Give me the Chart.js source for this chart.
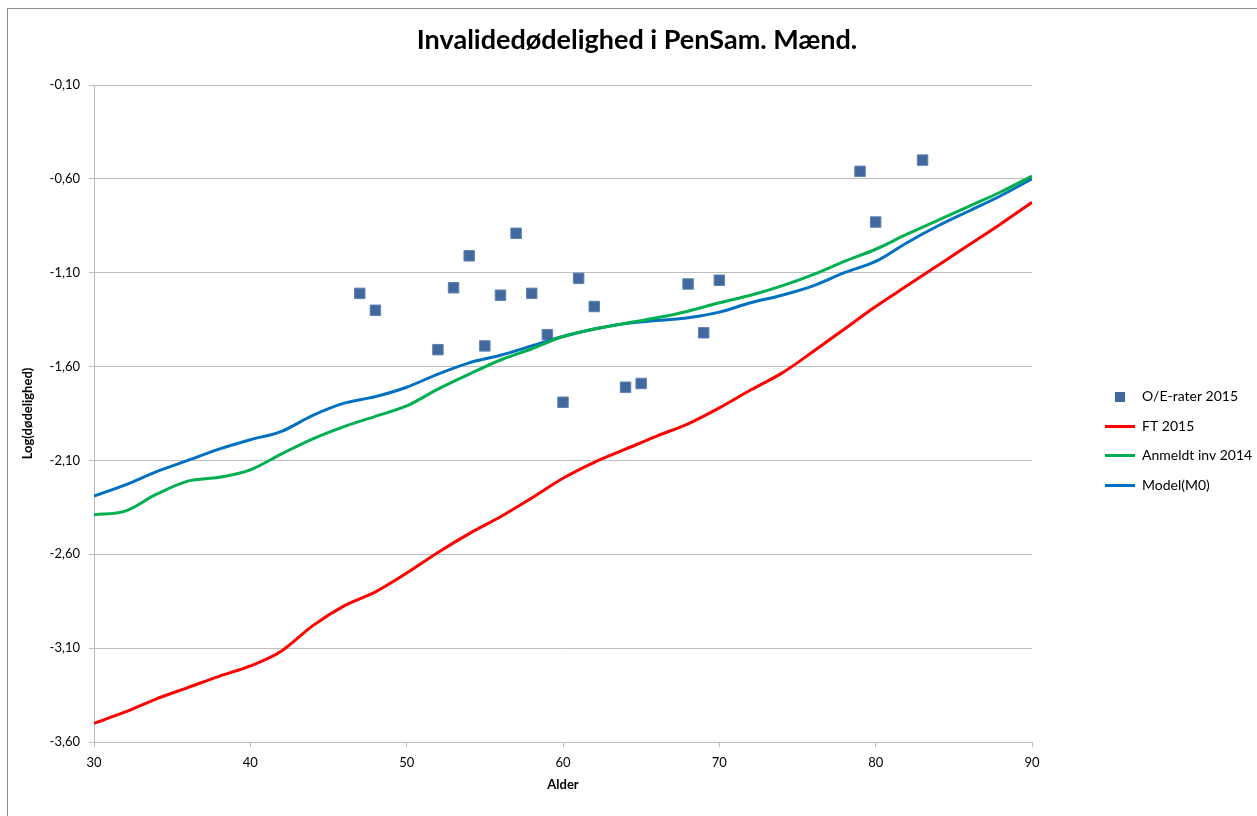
<!DOCTYPE html>
<html>
<head>
<meta charset="utf-8">
<script src="https://cdn.jsdelivr.net/npm/chart.js@4.4.1/dist/chart.umd.min.js"></script>
<style>
  html, body { margin: 0; padding: 0; background: #fff; overflow: hidden; }
  #graf { position: absolute; left: 0; top: 0; }
  #ramme { position: absolute; left: 7px; top: 8px; width: 1400px; height: 1000px; border: 1px solid #8c8c8c; pointer-events: none; }
</style>
</head>
<body>
<canvas id="graf" width="1274" height="816"></canvas>
<div id="ramme"></div>
<script>
// Data

const alder = [30, 32, 34, 36, 38, 40, 42, 44, 46, 48, 50, 52, 54, 56, 58, 60,
  62, 64, 66, 68, 70, 72, 74, 76, 78, 80, 82, 84, 86, 88, 90];

const ft2015 = [-3.50, -3.44, -3.37, -3.31, -3.25, -3.195, -3.115, -2.98, -2.875, -2.80, -2.70,
  -2.59, -2.49, -2.40, -2.30, -2.195, -2.11, -2.04, -1.97, -1.905, -1.82, -1.725,
  -1.635, -1.52, -1.40, -1.28, -1.17, -1.06, -0.95, -0.84, -0.725];

const anmeldtInv2014 = [-2.39, -2.37, -2.28, -2.21, -2.19, -2.15, -2.065, -1.985, -1.92, -1.865, -1.81,
  -1.72, -1.64, -1.565, -1.505, -1.44, -1.40, -1.37, -1.34, -1.305, -1.26, -1.22,
  -1.17, -1.11, -1.04, -0.975, -0.895, -0.82, -0.745, -0.67, -0.585];

const modelM0 = [-2.29, -2.23, -2.16, -2.10, -2.04, -1.99, -1.945, -1.86, -1.795, -1.76, -1.71,
  -1.64, -1.58, -1.54, -1.49, -1.44, -1.40, -1.37, -1.355, -1.34, -1.31, -1.26,
  -1.22, -1.17, -1.10, -1.04, -0.94, -0.85, -0.77, -0.69, -0.60];

const oeAlder = [47, 48, 52, 53, 54, 55, 56, 57, 58, 59, 60, 61, 62, 64, 65, 68, 69, 70, 79, 80, 83];
const oeRater = [-1.21, -1.30, -1.51, -1.18, -1.01, -1.49, -1.22, -0.89, -1.21, -1.43, -1.79,
  -1.13, -1.28, -1.71, -1.69, -1.16, -1.42, -1.14, -0.56, -0.83, -0.50];

const xTicks = [30, 40, 50, 60, 70, 80, 90];
const yTicks = [-3.6, -3.1, -2.6, -2.1, -1.6, -1.1, -0.6, -0.1];

// Farver

const farveOE = "#42699D";
const farveFT = "#FF0000";
const farveAnmeldt = "#00B050";
const farveModel = "#0070C0";
const farveGitter = "#BEBEBE";

// Små ikoner til legenden

function linjeIkon(farve) {
  const c = document.createElement("canvas");
  c.width = 30;
  c.height = 3;
  const ctx = c.getContext("2d");
  ctx.fillStyle = farve;
  ctx.fillRect(0, 0, 30, 3);
  return c;
}

function firkantIkon(farve) {
  const c = document.createElement("canvas");
  c.width = 30;
  c.height = 10;
  const ctx = c.getContext("2d");
  ctx.fillStyle = farve;
  ctx.fillRect(10, 0, 10, 10);
  return c;
}

const legendeIkoner = [
  firkantIkon(farveOE),
  linjeIkon(farveFT),
  linjeIkon(farveAnmeldt),
  linjeIkon(farveModel),
];

function punkter(xs, ys) {
  return xs.map((x, i) => ({ x: x, y: ys[i] }));
}

// Legenden skal stå lidt væk fra plotområdet, som i Excel

const legendePlacering = {
  id: "legendePlacering",
  beforeLayout(chart) {
    const legend = chart.legend;
    if (legend && !legend._fastBredde) {
      const fit = legend.fit.bind(legend);
      legend.fit = function () {
        fit();
        this.width = 242;
      };
      legend._fastBredde = true;
    }
  },
  afterLayout(chart) {
    const l = chart.legend;
    l.left += 57.5;
    l.right += 57.5;
    l.top += 33;
    l.bottom += 33;
  },
};

const fontFamilie = "Lato, 'Open Sans', sans-serif";
Chart.defaults.font.family = fontFamilie;
Chart.defaults.color = "#000";

const graf = document.getElementById("graf");

new Chart(graf, {
  type: "scatter",
  data: {
    datasets: [
      {
        label: "O/E-rater 2015",
        data: punkter(oeAlder, oeRater),
        pointStyle: "rect",
        pointRadius: 7.4,
        pointHoverRadius: 7.4,
        backgroundColor: farveOE,
        borderColor: "#5F82B3",
        borderWidth: 1,
        order: 1,
      },
      {
        label: "FT 2015",
        data: punkter(alder, ft2015),
        showLine: true,
        borderColor: farveFT,
        backgroundColor: farveFT,
        borderWidth: 3,
        pointRadius: 0,
        cubicInterpolationMode: "monotone",
        order: 0,
      },
      {
        label: "Anmeldt inv 2014",
        data: punkter(alder, anmeldtInv2014),
        showLine: true,
        borderColor: farveAnmeldt,
        backgroundColor: farveAnmeldt,
        borderWidth: 3,
        pointRadius: 0,
        cubicInterpolationMode: "monotone",
        order: 0,
      },
      {
        label: "Model(M0)",
        data: punkter(alder, modelM0),
        showLine: true,
        borderColor: farveModel,
        backgroundColor: farveModel,
        borderWidth: 3,
        pointRadius: 0,
        cubicInterpolationMode: "monotone",
        order: 0,
      },
    ],
  },
  options: {
    responsive: false,
    animation: false,
    layout: { padding: 0 },
    scales: {
      x: {
        type: "linear",
        min: 30,
        max: 90,
        afterBuildTicks: (s) => {
          s.ticks = xTicks.map((v) => ({ value: v }));
        },
        afterFit: (s) => {
          s.height = 74;
        },
        ticks: { font: { size: 13 }, color: "#000", padding: 8 },
        grid: {
          display: true,
          drawOnChartArea: false,
          drawTicks: true,
          tickLength: 5,
          color: farveGitter,
        },
        border: { color: farveGitter },
        title: {
          display: true,
          text: "Alder",
          font: { size: 13, weight: "bold" },
          color: "#000",
          padding: { top: 0, bottom: 23 },
        },
      },
      y: {
        type: "linear",
        min: -3.6,
        max: -0.1,
        afterBuildTicks: (s) => {
          s.ticks = yTicks.map((v) => ({ value: v }));
        },
        afterFit: (s) => {
          s.width = 94;
        },
        ticks: {
          font: { size: 13 },
          color: "#000",
          padding: 9,
          callback: (v) => v.toFixed(2).replace(".", ","),
        },
        grid: { color: farveGitter, tickLength: 5 },
        border: { color: farveGitter },
        title: {
          display: true,
          text: "Log(dødelighed)",
          font: { size: 13, weight: "bold" },
          color: "#000",
          padding: { top: 20, bottom: 0 },
        },
      },
    },
    plugins: {
      title: {
        display: true,
        text: "Invalidedødelighed i PenSam. Mænd.",
        font: { size: 27, weight: "bold" },
        color: "#000",
        padding: { top: 23.8, bottom: 28.8 },
      },
      legend: {
        position: "right",
        labels: {
          usePointStyle: true,
          pointStyleWidth: 30,
          padding: 15.5,
          font: { size: 14 },
          color: "#000",
          sort: (a, b) => a.datasetIndex - b.datasetIndex,
          generateLabels: (chart) => {
            const items = Chart.defaults.plugins.legend.labels.generateLabels(chart);
            items.forEach((item) => {
              item.pointStyle = legendeIkoner[item.datasetIndex];
            });
            return items;
          },
        },
      },
      tooltip: { enabled: false },
    },
  },
  plugins: [legendePlacering],
});
</script>
</body>
</html>
